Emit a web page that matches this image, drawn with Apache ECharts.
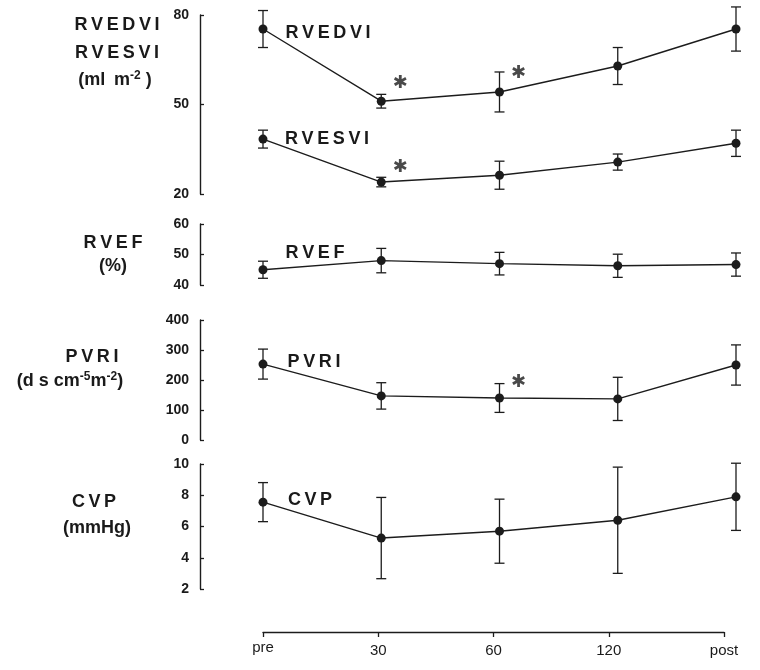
<!DOCTYPE html>
<html><head><meta charset="utf-8">
<script src="https://cdn.jsdelivr.net/npm/echarts@6/dist/echarts.min.js"></script>
<style>html,body{margin:0;padding:0;background:#fff}#c{width:760px;height:670px}</style>
</head><body><div id="c"></div>
<script>
// ---- data ----
const categories = ['pre', '30', '60', '120', 'post'];
const rvedviMean = [75.3, 51.1, 54.2, 62.9, 75.3];
const rvedviErr  = [6.2, 2.3, 6.7, 6.2, 7.4];
const rvesviMean = [38.4, 24.0, 26.3, 30.7, 37.0];
const rvesviErr  = [3.0, 1.6, 4.7, 2.7, 4.4];
const rvefMean   = [45.0, 48.0, 47.0, 46.3, 46.7];
const rvefErr    = [2.8, 4.0, 3.7, 3.8, 3.8];
const pvriMean   = [253, 147, 140, 137, 250];
const pvriErr    = [50, 44, 48, 72, 67];
const cvpMean    = [7.56, 5.26, 5.7, 6.4, 7.9];
const cvpErr     = [1.25, 2.6, 2.05, 3.4, 2.15];
// significance markers (value level where the asterisk sits)
const rvedviStars = [null, 57.2, 60.6, null, null];
const rvesviStars = [null, 29.0, null, null, null];
const pvriStars   = [null, null, 193, null, null];
// axis ranges
const yRanges = [
  {min: 20, max: 80, interval: 30},
  {min: 40, max: 60, interval: 10},
  {min: 0, max: 400, interval: 100},
  {min: 2, max: 10, interval: 2}
];

// ---- layout ----
const INK = '#1c1c1c';
const FONT = "'Liberation Sans', Arial, sans-serif";
const grids = [
  {left: 263, right: 24, top: 15, height: 179},
  {left: 263, right: 24, top: 224, height: 61},
  {left: 263, right: 24, top: 320, height: 120},
  {left: 263, right: 24, top: 464, height: 125},
  {left: 263, right: 36, top: 600, height: 32}
];

const xAxes = grids.map((g, i) => ({
  type: 'category', gridIndex: i, data: categories, boundaryGap: false,
  show: i === 4,
  axisLine: {show: true, lineStyle: {color: INK, width: 1.3}},
  axisTick: {show: true, inside: false, length: 5, lineStyle: {color: INK, width: 1.3}},
  axisLabel: {show: true, color: '#1a1a1a', fontFamily: FONT, fontSize: 15, margin: 8,
    formatter: (v, idx) => (idx === 0 ? '{hi|' + v + '}' : '{lo|' + v + '}'),
    rich: {
      hi: {fontFamily: FONT, fontSize: 15, color: '#1a1a1a', padding: [0, 0, 4, 0]},
      lo: {fontFamily: FONT, fontSize: 15, color: '#1a1a1a', padding: [3, 0, 0, 0]}
    }}
}));

const yAxes = grids.map((g, i) => {
  if (i === 4) return {type: 'value', gridIndex: 4, show: false, min: 0, max: 1};
  return {
    type: 'value', gridIndex: i, offset: 63,
    min: yRanges[i].min, max: yRanges[i].max, interval: yRanges[i].interval,
    splitLine: {show: false},
    axisLine: {show: true, lineStyle: {color: INK, width: 1.4}},
    axisTick: {show: true, inside: true, length: 4, lineStyle: {color: INK, width: 1.3}},
    axisLabel: {color: '#1a1a1a', fontFamily: FONT, fontSize: 14, fontWeight: 'bold', margin: 11}
  };
});

function lineSeries(gi, mean) {
  return {
    type: 'line', xAxisIndex: gi, yAxisIndex: gi, data: mean,
    symbol: 'circle', symbolSize: 9, silent: true, z: 3,
    itemStyle: {color: INK},
    lineStyle: {color: INK, width: 1.4}
  };
}
function errSeries(gi, mean, err) {
  return {
    type: 'custom', xAxisIndex: gi, yAxisIndex: gi, silent: true, z: 2,
    data: mean.map((m, i) => [i, m - err[i], m + err[i]]),
    encode: {x: 0, y: [1, 2]},
    renderItem(params, api) {
      const x = api.value(0);
      const lo = api.coord([x, api.value(1)]);
      const hi = api.coord([x, api.value(2)]);
      const w = 5;
      const st = {stroke: INK, lineWidth: 1.3};
      return {type: 'group', children: [
        {type: 'line', shape: {x1: lo[0], y1: lo[1], x2: hi[0], y2: hi[1]}, style: st},
        {type: 'line', shape: {x1: lo[0] - w, y1: lo[1], x2: lo[0] + w, y2: lo[1]}, style: st},
        {type: 'line', shape: {x1: hi[0] - w, y1: hi[1], x2: hi[0] + w, y2: hi[1]}, style: st}
      ]};
    }
  };
}
function starSeries(gi, stars) {
  return {
    type: 'scatter', xAxisIndex: gi, yAxisIndex: gi, silent: true, z: 4,
    data: stars.map(v => (v == null ? '-' : v)),
    symbolSize: 1, itemStyle: {color: 'rgba(0,0,0,0)'},
    label: {show: true, position: 'inside', offset: [19, 0], formatter: '\u2731',
      fontFamily: "'DejaVu Sans', sans-serif", fontSize: 18, fontWeight: 'bold', color: INK}
  };
}

const series = [
  errSeries(0, rvedviMean, rvedviErr), lineSeries(0, rvedviMean),
  errSeries(0, rvesviMean, rvesviErr), lineSeries(0, rvesviMean),
  errSeries(1, rvefMean, rvefErr), lineSeries(1, rvefMean),
  errSeries(2, pvriMean, pvriErr), lineSeries(2, pvriMean),
  errSeries(3, cvpMean, cvpErr), lineSeries(3, cvpMean),
  starSeries(0, rvedviStars), starSeries(0, rvesviStars), starSeries(2, pvriStars)
];

const sp = s => s.split('').join('\u2009');
const titleFont = "bold 18px " + FONT;
function txt(x, y, text, extra) {
  return Object.assign({type: 'text', x: x, y: y, silent: true,
    style: Object.assign({text: text, font: titleFont, fill: '#1a1a1a',
      textAlign: 'center', textVerticalAlign: 'middle'}, extra || {})});
}
const supRich = {s: {font: "bold 12px " + FONT, fill: '#1a1a1a', padding: [0, 0, 9, 0]}};

const graphic = [
  txt(117, 25, sp('RVEDVI')),
  txt(117, 53, sp('RVESVI')),
  txt(115, 80, '(ml\u2009 m{s|-2} )', {rich: supRich}),
  txt(113, 243, sp('RVEF')),
  txt(113, 266, '(%)'),
  txt(92, 357, sp('PVRI')),
  txt(70, 381, '(d s cm{s|-5}m{s|-2})', {rich: supRich}),
  txt(94, 502, sp('CVP')),
  txt(97, 528, '(mmHg)'),
  txt(328, 33, sp('RVEDVI')),
  txt(327, 139, sp('RVESVI')),
  txt(315, 253, sp('RVEF')),
  txt(314, 362, sp('PVRI')),
  txt(310, 500, sp('CVP'))
];

const chart = echarts.init(document.getElementById('c'), null, {renderer: 'canvas'});
chart.setOption({
  backgroundColor: '#fff',
  animation: false,
  grid: grids,
  xAxis: xAxes,
  yAxis: yAxes,
  series: series,
  graphic: graphic
});
</script>
</body></html>
